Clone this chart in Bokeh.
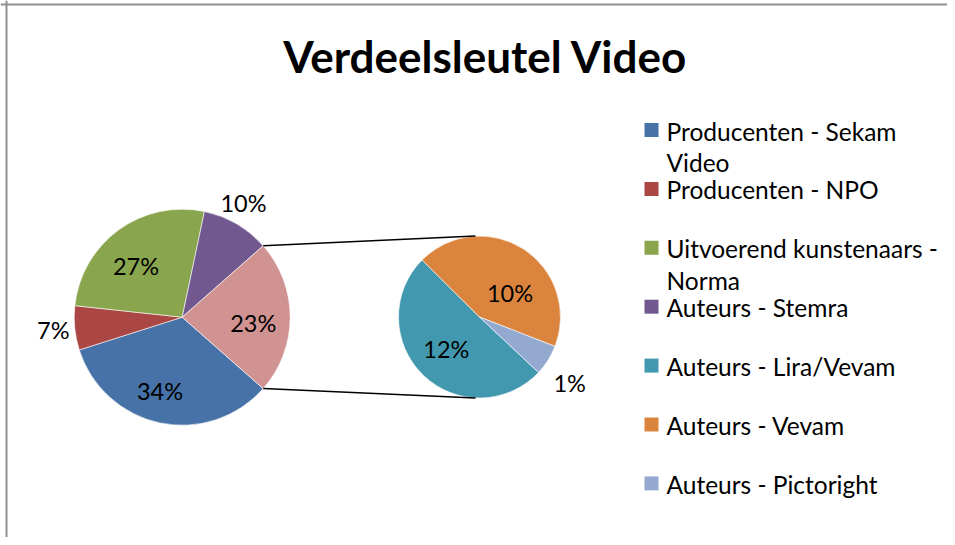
import numpy as np
from bokeh.plotting import figure
from bokeh.models import Range1d, Span, ColumnDataSource
from bokeh.embed import file_html
from bokeh.resources import INLINE
from bokeh.core.properties import value

# ---------------- data ----------------
title = "Verdeelsleutel Video"
main_names = ["Producenten - Sekam Video", "Producenten - NPO",
              "Uitvoerend kunstenaars - Norma", "Auteurs - Stemra"]
main_values = [33.6, 6.6, 26.6, 10.2]
sec_names = ["Auteurs - Lira/Vevam", "Auteurs - Vevam", "Auteurs - Pictoright"]
sec_values = [11.6, 10.0, 1.4]
legend_text = ["Producenten - Sekam\nVideo", "Producenten - NPO",
               "Uitvoerend kunstenaars -\nNorma", "Auteurs - Stemra",
               "Auteurs - Lira/Vevam", "Auteurs - Vevam", "Auteurs - Pictoright"]

# ---------------- style ----------------
main_colors = ["#4672A8", "#AA4744", "#89A54E", "#71598F"]
other_color = "#D19392"
sec_colors = ["#4298AF", "#DB843D", "#93A9CF"]
FONT = "Lato"
LABEL_SIZE = "23.5px"
LEGEND_SIZE = "24.5px"
TITLE_SIZE = "44px"

W, H = 947, 537
def sx(px): return px
def sy(py): return H - py

def pct(v, t):
    return f"{int(np.floor(v / t * 100 + 0.5))}%"

# layout
c1 = (sx(181.7), sy(316.7)); r1 = 108
c2 = (sx(479.0), sy(316.5)); r2 = 81
sec_start = np.deg2rad(-43.2)
main_lab = [(0.71, -5), (1.2, 0), (0.64, 6), (1.2, 2)]
other_lab = (0.66, -5)
sec_lab = [(0.57, -2), (0.48, -18.6), (1.38, -4)]

p = figure(width=W, height=H, output_backend="svg", toolbar_location=None,
           x_range=Range1d(0, W), y_range=Range1d(0, H), min_border=0)
p.axis.visible = False
p.grid.visible = False
p.outline_line_color = None
p.background_fill_color = "white"
p.border_fill_color = "white"

total = sum(main_values) + sum(sec_values)
other = sum(sec_values)
half = other / total * np.pi

# main pie
starts, ends, lx, ly, labs = [], [], [], [], []
cur = -half
for v, (f, off) in zip(main_values, main_lab):
    ang = v / total * 2 * np.pi
    s, e = cur - ang, cur
    starts.append(s); ends.append(e)
    m = (s + e) / 2 + np.deg2rad(off)
    lx.append(c1[0] + f * r1 * np.cos(m)); ly.append(c1[1] + f * r1 * np.sin(m))
    labs.append(pct(v, total))
    cur = s
starts.append(-half); ends.append(half)
m = np.deg2rad(other_lab[1])
lx.append(c1[0] + other_lab[0] * r1 * np.cos(m)); ly.append(c1[1] + other_lab[0] * r1 * np.sin(m))
labs.append(pct(other, total))

src1 = ColumnDataSource(dict(s=starts, e=ends, c=main_colors + [other_color]))
p.wedge(x=c1[0], y=c1[1], radius=r1, start_angle="s", end_angle="e",
        fill_color="c", line_color="white", line_width=0.6, source=src1)

# secondary pie
s2, e2 = [], []
cur = sec_start
for v, (f, off) in zip(sec_values, sec_lab):
    ang = v / other * 2 * np.pi
    s, e = cur - ang, cur
    s2.append(s); e2.append(e)
    m = (s + e) / 2 + np.deg2rad(off)
    lx.append(c2[0] + f * r2 * np.cos(m)); ly.append(c2[1] + f * r2 * np.sin(m))
    labs.append(pct(v, total))
    cur = s
src2 = ColumnDataSource(dict(s=s2, e=e2, c=sec_colors))
p.wedge(x=c2[0], y=c2[1], radius=r2, start_angle="s", end_angle="e",
        fill_color="c", line_color="white", line_width=0.6, source=src2)

# connector lines
p.segment(x0=[c1[0] + r1 * np.cos(half), c1[0] + r1 * np.cos(-half)],
          y0=[c1[1] + r1 * np.sin(half), c1[1] + r1 * np.sin(-half)],
          x1=[c2[0] - 4, c2[0] - 4], y1=[c2[1] + r2, c2[1] - r2],
          line_color="black", line_width=1.5)

# data labels
p.text(x=lx, y=ly, text=labs, text_font=value(FONT), text_font_size=LABEL_SIZE,
       text_align="center", text_baseline="middle", text_color="black")

# title
p.text(x=[sx(485)], y=[sy(55)], text=[title], text_font=value(FONT),
       text_font_size=TITLE_SIZE, text_font_style="bold",
       text_align="center", text_baseline="middle", text_color="black")

# legend
colors_all = main_colors + sec_colors
ly0, dly, line_h = 129.5, 58.9, 31.7
rx, ry, rc, tx, ty, tt = [], [], [], [], [], []
for i, (t, c) in enumerate(zip(legend_text, colors_all)):
    yc = ly0 + i * dly
    rx.append(sx(651)); ry.append(sy(yc)); rc.append(c)
    for k, line in enumerate(t.split("\n")):
        tx.append(sx(666)); ty.append(sy(yc + k * line_h + 1)); tt.append(line)
p.rect(x=rx, y=ry, width=14, height=14, fill_color=rc, line_color=None)
p.text(x=tx, y=ty, text=tt, text_font=value(FONT), text_font_size=LEGEND_SIZE,
       text_align="left", text_baseline="middle", text_color="black")

# chart border (left/top visible)
p.add_layout(Span(location=sx(6), dimension="height", line_color="#8f8f8f", line_width=2))
p.add_layout(Span(location=sy(4), dimension="width", line_color="#8f8f8f", line_width=2))

open("out.html", "w").write(file_html(p, INLINE))
